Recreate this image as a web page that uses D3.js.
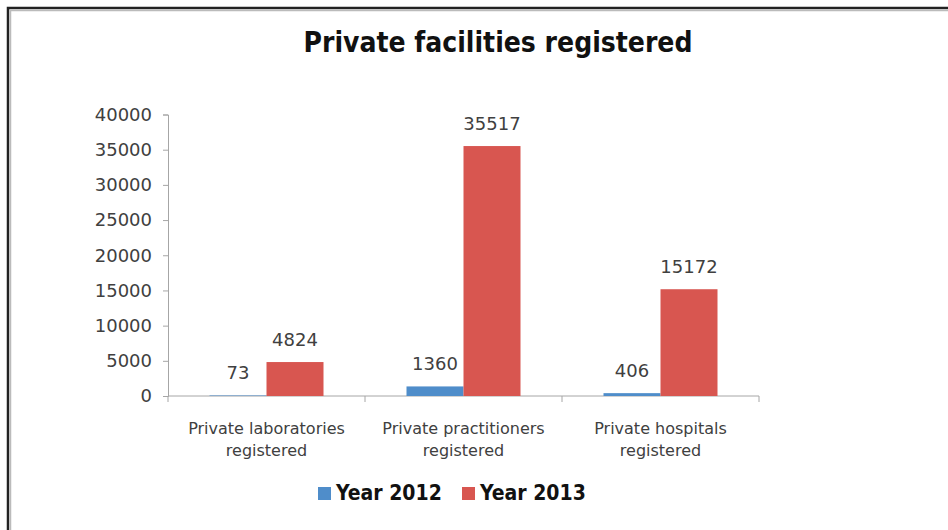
<!DOCTYPE html>
<html><head><meta charset="utf-8">
<script src="https://cdn.jsdelivr.net/npm/d3@7"></script>
<style>body{margin:0;background:#fff}svg{display:block}</style>
</head><body>
<script>
const categories = [["Private laboratories","registered"],["Private practitioners","registered"],["Private hospitals","registered"]];
const seriesNames = ["Year 2012","Year 2013"];
const values2012 = [73, 1360, 406];
const values2013 = [4824, 35517, 15172];
const yTicks = [0,5000,10000,15000,20000,25000,30000,35000,40000];
const colors = ["#4f8dca","#d85650"];

const W=948,H=530;
const svg=d3.select("body").append("svg").attr("width",W).attr("height",H);
// frame
svg.append("path").attr("d","M8,530 V8 H948").attr("fill","none").attr("stroke","#222").attr("stroke-width",2.5);
svg.append("path").attr("d","M10.5,530 V10.5 H948").attr("fill","none").attr("stroke","#bbb").attr("stroke-width",1.5);

const x0=168,x1=759,yTop=114.5,yBot=396;
const x=d3.scaleBand().domain(d3.range(categories.length)).range([x0,x1]);
const y=d3.scaleLinear().domain([0,40000]).range([yBot,yTop]);
const bw=57;
const bodyFont="'DejaVu Sans',Verdana,sans-serif";
const boldFont="'DejaVu Sans Condensed','Liberation Sans Narrow',sans-serif";

svg.append("text").attr("x",498).attr("y",52).attr("text-anchor","middle")
  .attr("font-family",boldFont).attr("font-weight","bold")
  .attr("font-size",28).attr("fill","#111").text("Private facilities registered");

const yAxis=svg.append("g").attr("transform",`translate(${x0},0)`)
  .call(d3.axisLeft(y).tickValues(yTicks).tickSize(5).tickPadding(11).tickFormat(d3.format("d")));
yAxis.selectAll("path,line").attr("stroke","#a6a6a6");
yAxis.selectAll("text").attr("font-family",bodyFont).attr("font-size",18).attr("fill","#404040");

const xAxis=svg.append("g").attr("transform",`translate(0,${yBot})`);
xAxis.append("line").attr("x1",x0).attr("x2",x1).attr("stroke","#a6a6a6");
xAxis.selectAll("line.t").data(d3.range(categories.length+1)).join("line").attr("class","t")
  .attr("x1",i=>i<categories.length?x(i):x1).attr("x2",i=>i<categories.length?x(i):x1)
  .attr("y1",0).attr("y2",6).attr("stroke","#a6a6a6");

const g=svg.append("g");
categories.forEach((c,i)=>{
  const cx=x(i)+x.bandwidth()/2;
  [values2012[i],values2013[i]].forEach((v,s)=>{
    const bx=s===0?cx-bw:cx;
    g.append("rect").attr("x",bx).attr("y",y(v)).attr("width",bw).attr("height",yBot-y(v)).attr("fill",colors[s]);
    g.append("text").attr("x",bx+bw/2).attr("y",y(v)-16).attr("text-anchor","middle")
      .attr("font-family",bodyFont).attr("font-size",18).attr("fill","#404040").text(v);
  });
  c.forEach((line,j)=>{
    svg.append("text").attr("x",cx).attr("y",434+j*22).attr("text-anchor","middle")
      .attr("font-family",bodyFont).attr("font-size",16).attr("fill","#404040").text(line);
  });
});

const leg=svg.append("g");
const legX=[318,462];
seriesNames.forEach((n,i)=>{
  leg.append("rect").attr("x",legX[i]).attr("y",487).attr("width",13).attr("height",13).attr("fill",colors[i]);
  leg.append("text").attr("x",legX[i]+18).attr("y",500)
    .attr("font-family",boldFont).attr("font-weight","bold")
    .attr("font-size",21).attr("fill","#111").text(n);
});
</script>
</body></html>
